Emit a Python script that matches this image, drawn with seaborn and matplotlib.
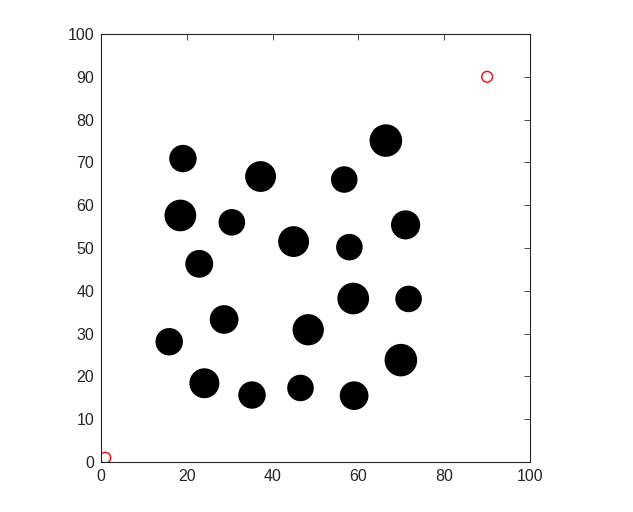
import matplotlib
matplotlib.use("Agg")
import matplotlib.pyplot as plt
import seaborn as sns
import pandas as pd
from matplotlib.patches import Circle

sns.set_theme(style="white")
plt.rcParams['font.family'] = ['Liberation Sans', 'DejaVu Sans']

# Obstacles (center x, center y, radius) in data units
obs_x = [19.1, 37.2, 18.5, 30.5, 44.9, 22.9, 66.4, 56.7, 71.0, 57.9,
         58.8, 71.7, 28.7, 48.3, 15.9, 69.9, 24.1, 35.2, 46.5, 59.0]
obs_y = [70.9, 66.7, 57.6, 56.0, 51.5, 46.3, 75.1, 66.0, 55.4, 50.2,
         38.2, 38.1, 33.3, 30.9, 28.1, 23.8, 18.4, 15.65, 17.3, 15.5]
obs_r = [3.2, 3.6, 3.7, 3.1, 3.6, 3.25, 3.8, 3.1, 3.4, 3.1,
         3.7, 3.1, 3.35, 3.65, 3.2, 3.8, 3.5, 3.2, 3.1, 3.35]

# Start and goal points
pt_x = [1, 90]
pt_y = [1, 90]

xticks = [0, 20, 40, 60, 80, 100]
yticks = [0, 10, 20, 30, 40, 50, 60, 70, 80, 90, 100]

fig = plt.figure(figsize=(6.33, 5.12), dpi=100)
ax = fig.add_axes([101/633, 50/512, 429/633, 428/512])

for x, y, r in zip(obs_x, obs_y, obs_r):
    ax.add_patch(Circle((x, y), r, facecolor='black', edgecolor='black', lw=0))

df = pd.DataFrame({'x': pt_x, 'y': pt_y})
sns.scatterplot(data=df, x='x', y='y', ax=ax, marker='o', s=60,
                facecolors='none', edgecolor='#ff0000', linewidth=1.0)

ax.set_xlim(0, 100)
ax.set_ylim(0, 100)
ax.set_xticks(xticks)
ax.set_yticks(yticks)
ax.set_xlabel('')
ax.set_ylabel('')
for s in ax.spines.values():
    s.set_visible(True)
    s.set_color('#262626')
    s.set_linewidth(0.8)
ax.tick_params(direction='in', length=4, width=0.6, color='#262626',
               top=True, right=True, labelsize=11.5, labelcolor='#262626', pad=5)

fig.savefig('out.png', dpi=100)
